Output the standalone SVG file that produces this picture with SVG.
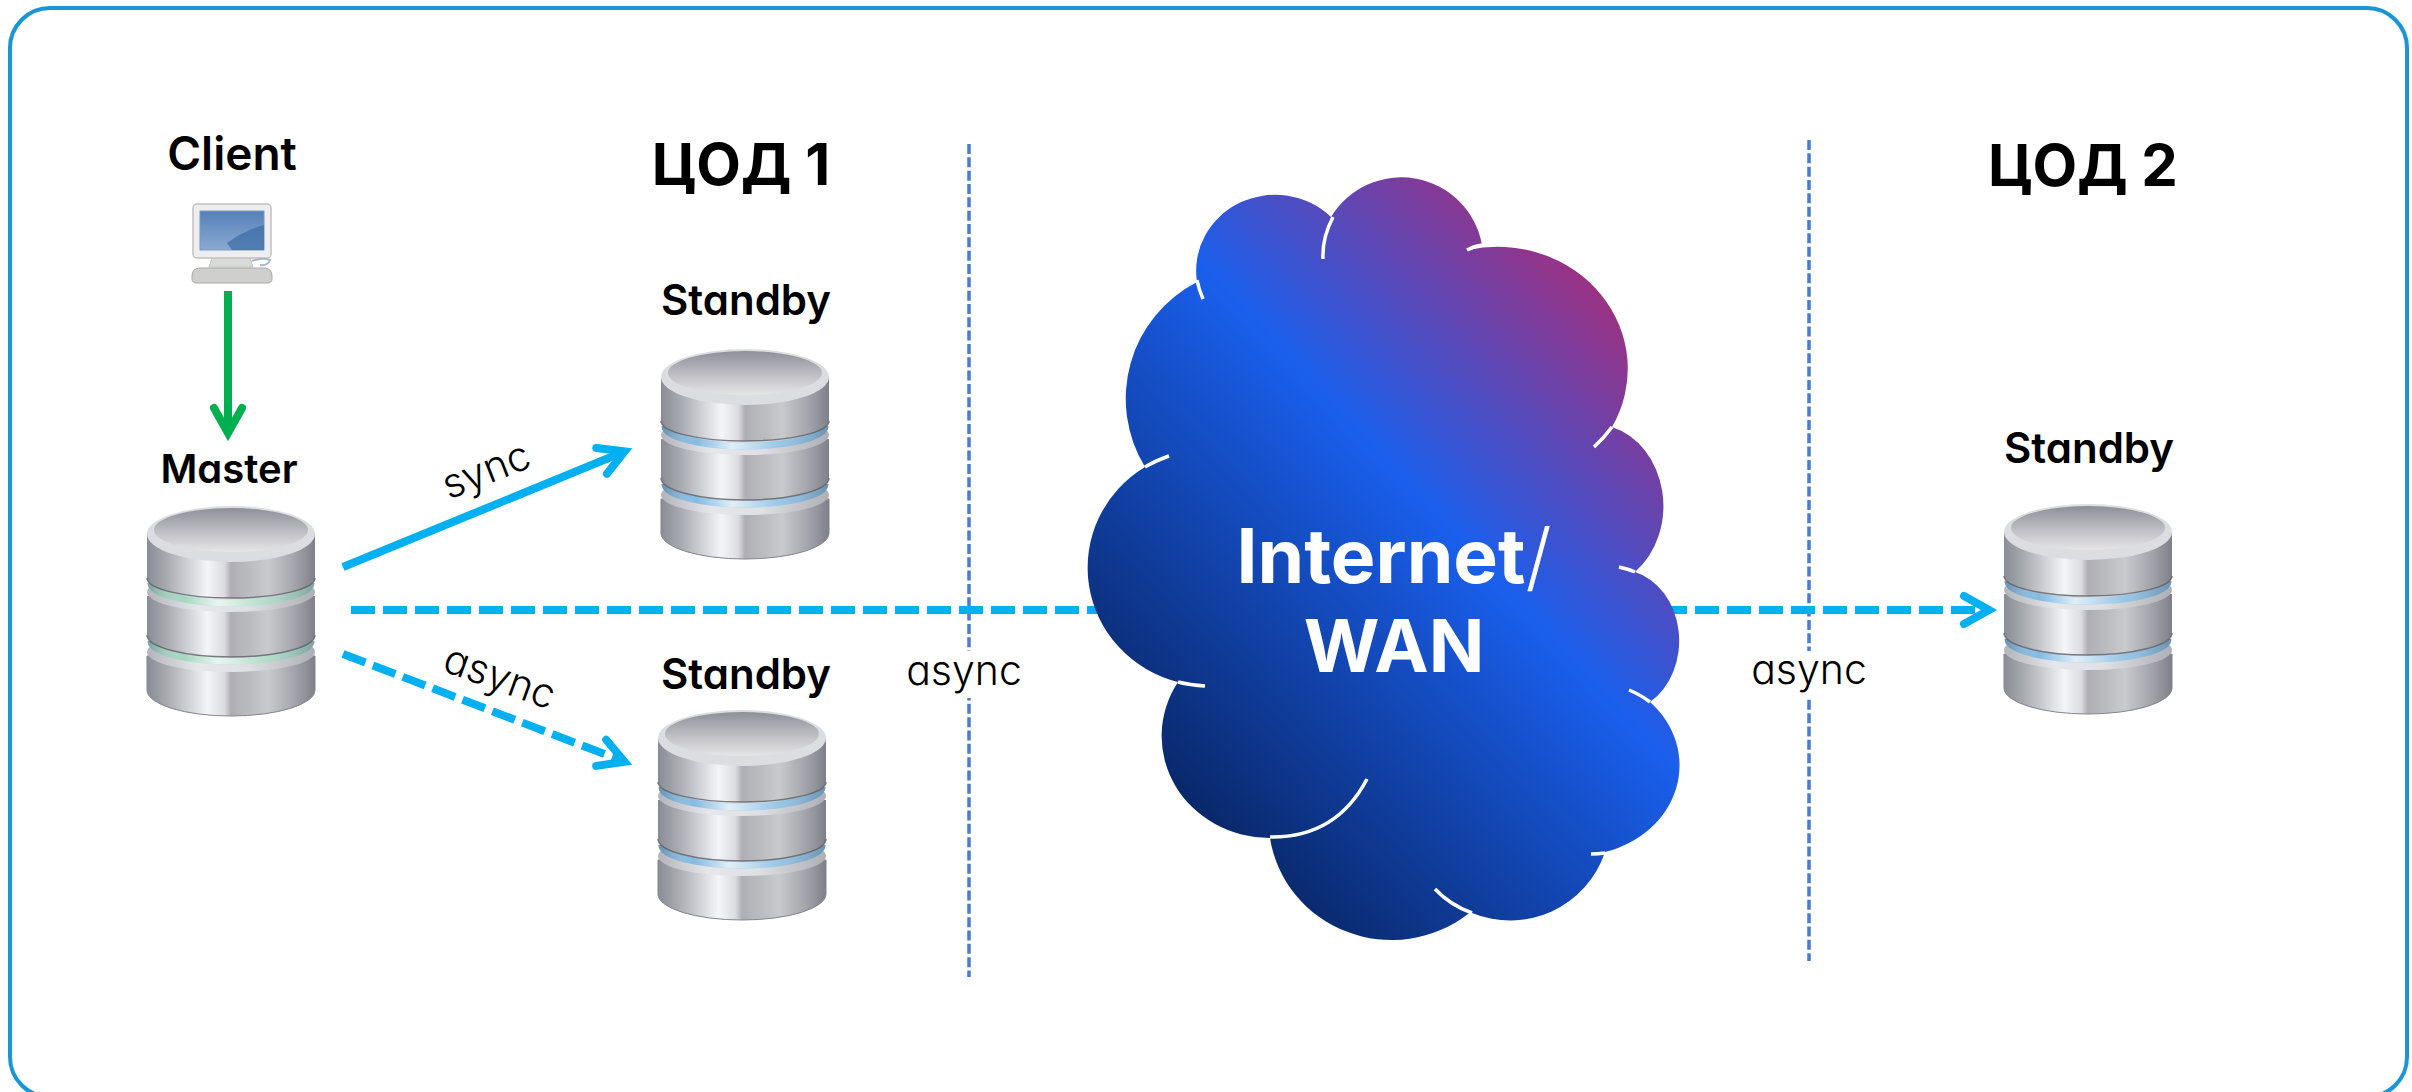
<svg xmlns="http://www.w3.org/2000/svg" width="2412" height="1092" viewBox="0 0 2412 1092">
<style>
text{font-family:"Inter","Noto Sans",sans-serif;fill:#000;font-feature-settings:"cv11" 1,"ss03" 1}
.lbl{font-size:42px;font-weight:600;text-anchor:middle}
.dc{font-size:58px;font-weight:700;text-anchor:middle}
.thin{font-size:41px;font-weight:300;text-anchor:middle}
.cl{font-size:75px;font-weight:700;text-anchor:middle;fill:#fff}
.blue{fill:none;stroke:#00b0f0;stroke-width:8}
.dash{stroke-dasharray:24 8}
.vd{fill:none;stroke:#4a7bcf;stroke-width:3.5;stroke-dasharray:10 3.33}
.seam{fill:none;stroke:#fff;stroke-width:3.5}
.rim{fill:url(#rim)}
.ring{fill:none;stroke:currentColor;stroke-width:7}
.ringhi{fill:none;stroke:url(#ringhi);stroke-width:7}
.edge{fill:none;stroke:#5f6066;stroke-width:1.5;stroke-opacity:.8}
</style>
<defs>
<linearGradient id="cg" gradientUnits="userSpaceOnUse" x1="1193" y1="810" x2="1667" y2="365">
<stop offset="0" stop-color="#0a286a"/><stop offset="0.585" stop-color="#1a5fec"/><stop offset="1" stop-color="#9a3284"/>
</linearGradient>
<linearGradient id="metal" x1="0" x2="1" y1="0" y2="0">
<stop offset="0" stop-color="#8a8c95"/><stop offset="0.12" stop-color="#a9abb1"/><stop offset="0.36" stop-color="#f4f5f7"/><stop offset="0.46" stop-color="#dcdce0"/><stop offset="0.5" stop-color="#aeaeb4"/><stop offset="0.72" stop-color="#c9cacc"/><stop offset="0.88" stop-color="#a3a4aa"/><stop offset="1" stop-color="#7e7f89"/>
</linearGradient>
<linearGradient id="rim" x1="0" x2="1" y1="0" y2="0">
<stop offset="0" stop-color="#b4b5bb"/><stop offset="0.3" stop-color="#e6e7ea"/><stop offset="0.6" stop-color="#dfe0e3"/><stop offset="1" stop-color="#aeafb6"/>
</linearGradient>
<linearGradient id="ringhi" x1="0" x2="1" y1="0" y2="0">
<stop offset="0" stop-color="#456" stop-opacity=".35"/><stop offset="0.2" stop-color="#fff" stop-opacity="0"/><stop offset="0.42" stop-color="#fff" stop-opacity=".75"/><stop offset="0.7" stop-color="#fff" stop-opacity=".2"/><stop offset="1" stop-color="#456" stop-opacity=".35"/>
</linearGradient>
<linearGradient id="disc" x1="0" x2="0" y1="0" y2="1">
<stop offset="0" stop-color="#8f8f99"/><stop offset="1" stop-color="#e6e6e8"/>
</linearGradient>
<linearGradient id="scr" x1="0" x2="0" y1="0" y2="1">
<stop offset="0" stop-color="#5481b8"/><stop offset="1" stop-color="#8aa9d0"/>
</linearGradient>
<marker id="ab" markerUnits="userSpaceOnUse" viewBox="-40 -25 60 50" refX="0" refY="0" markerWidth="60" markerHeight="50" orient="auto" overflow="visible">
<path d="M-24,-14 L1,0 L-24,14" fill="none" stroke="#00b0f0" stroke-width="8" stroke-linecap="round" stroke-miterlimit="10"/>
</marker>
<marker id="ag" markerUnits="userSpaceOnUse" viewBox="-40 -25 60 50" refX="0" refY="0" markerWidth="60" markerHeight="50" orient="auto" overflow="visible">
<path d="M-24,-14 L1,0 L-24,14" fill="none" stroke="#00b050" stroke-width="8" stroke-linecap="round" stroke-miterlimit="10"/>
</marker>
<symbol id="db" viewBox="0 0 168 212" width="168" height="212" overflow="visible">
<path d="M0,150 V184 A84 26 0 0 0 168,184 V150Z" fill="url(#metal)" stroke="#85858d" stroke-width="1"/>
<ellipse class="rim" cx="84" cy="146" rx="84" ry="20"/>
<path class="ring" d="M4,135 A80 20 0 0 0 164,135"/>
<path class="ringhi" d="M4,135 A80 20 0 0 0 164,135"/>
<path d="M0,90 V129 A84 22 0 0 0 168,129 V90Z" fill="url(#metal)"/>
<path class="edge" d="M0,129 A84 22 0 0 0 168,129"/>
<ellipse class="rim" cx="84" cy="86" rx="84" ry="20"/>
<path class="ring" d="M4,77 A80 20 0 0 0 164,77"/>
<path class="ringhi" d="M4,77 A80 20 0 0 0 164,77"/>
<path d="M0,28 V72 A84 20 0 0 0 168,72 V28Z" fill="url(#metal)"/>
<path class="edge" d="M0,72 A84 20 0 0 0 168,72"/>
<ellipse cx="84" cy="28" rx="84" ry="28" fill="#dcdde0"/>
<ellipse cx="84" cy="24" rx="77" ry="22" fill="url(#disc)"/>
</symbol>
</defs>
<rect id="frame" x="10" y="8" width="2397" height="1089" rx="40" fill="#fff" stroke="#1a96d6" stroke-width="4"/>

<g id="connectors">
<path class="vd" d="M969,144V977"/>
<path class="vd" d="M1809,140V961"/>
<path d="M228,291V432" fill="none" stroke="#00b050" stroke-width="8" marker-end="url(#ag)"/>
<path class="blue" d="M343,567L623.8,451.8" marker-end="url(#ab)"/>
<path class="blue dash" d="M343,654L623.6,761.4" marker-end="url(#ab)"/>
<path class="blue dash" d="M351,610H1988" marker-end="url(#ab)"/>
</g>

<g id="label-sync"><text class="thin" transform="translate(491,483) rotate(-21.5)">sync</text></g>
<g id="label-async-1"><text class="thin" transform="translate(495,690) rotate(20)">async</text></g>
<g id="label-async-2"><rect x="905" y="651" width="118" height="47" fill="#fff"/><text class="thin" x="964" y="685">async</text></g>
<g id="label-async-3"><rect x="1750" y="651" width="118" height="47" fill="#fff"/><text class="thin" x="1809" y="684">async</text></g>

<g id="dc1"><text class="dc" x="741" y="185">ЦОД 1</text></g>
<g id="dc2"><text class="dc" x="2083" y="186">ЦОД 2</text></g>

<g id="client">
<text class="lbl" style="font-size:46px" x="232" y="170">Client</text>
<path d="M212,258h38l3,9h-44z" fill="#d9dbd8" stroke="#c4c6c3"/>
<rect x="193" y="204" width="78" height="54" rx="4" fill="#eceef2" stroke="#c9bfb8" stroke-width="1.5"/>
<rect x="200" y="211" width="64" height="39" fill="url(#scr)" stroke="#7f97b8" stroke-width="1"/>
<path d="M227,243Q245,230 264,225V250H232Z" fill="#3f6da8" fill-opacity=".75"/>
<path d="M252,261q10,-4 18,-1q-2,6 -10,5" fill="none" stroke="#a8b8cc" stroke-width="2"/>
<path d="M200,268h64q8,0 8,8v3q0,4 -5,4h-70q-5,0 -5,-4v-3q0,-8 8,-8z" fill="#cfd0ce" stroke="#a9aaa8"/>
</g>

<g id="master" color="#a4d6c0">
<text class="lbl" style="font-size:40px" x="229" y="483">Master</text>
<use href="#db" x="147" y="506"/>
</g>
<g id="standby-1" color="#84bbe2">
<text class="lbl" x="746" y="315">Standby</text>
<use href="#db" x="661" y="349"/>
</g>
<g id="standby-2" color="#84bbe2">
<text class="lbl" x="746" y="689">Standby</text>
<use href="#db" x="658" y="710"/>
</g>
<g id="standby-3" color="#84bbe2">
<text class="lbl" x="2089" y="463">Standby</text>
<use href="#db" x="2004" y="504"/>
</g>

<g id="cloud">
<path fill="url(#cg)" d="M1197,282 A79 76 0 0 1 1331,217 A82 82 0 0 1 1482,245 L1468,250 A130 122 0 0 1 1612,427 A70 82 0 0 1 1635,572 A59 71 0 0 1 1650,702 A102 90 0 0 1 1605,852 A100 100 0 0 1 1472,913 L1468,914 A123 120 0 0 1 1270,838 A108 102 0 0 1 1178,682 A120 118 0 0 1 1145,467 A131 131 0 0 1 1197,282Z"/>
<path class="seam" d="M1197,280Q1199,290 1203,299"/>
<path class="seam" d="M1333,217Q1322,238 1323,259"/>
<path class="seam" d="M1482,245Q1474,246 1467,250"/>
<path class="seam" d="M1612,427Q1604,438 1594,447"/>
<path class="seam" d="M1635,572Q1628,569 1619,567"/>
<path class="seam" d="M1650,702Q1641,695 1629,690"/>
<path class="seam" d="M1605,853Q1598,854 1591,854"/>
<path class="seam" d="M1472,913Q1450,905 1435,889"/>
<path class="seam" d="M1270,837Q1336,838 1367,779"/>
<path class="seam" d="M1178,682Q1190,685 1205,686"/>
<path class="seam" d="M1145,467Q1155,461 1169,456"/>
<text class="cl" x="1394" y="583">Internet<tspan font-weight="300">/</tspan></text>
<text class="cl" style="font-size:73px" x="1394" y="672">WAN</text>
</g>
</svg>
